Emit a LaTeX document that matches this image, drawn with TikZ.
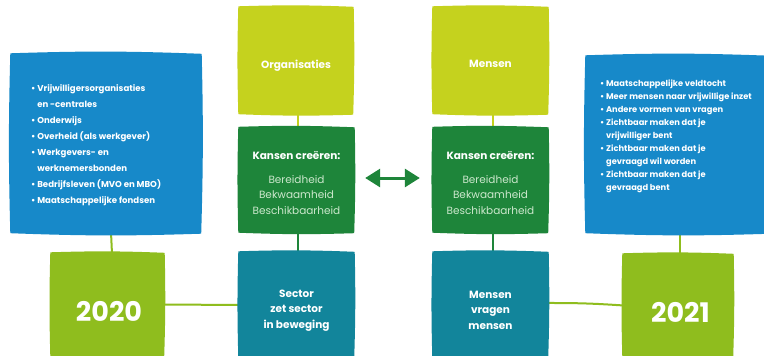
\documentclass[tikz,border=0pt]{standalone}
\usepackage{fontspec}
\setmainfont{Poppins}
\usetikzlibrary{arrows.meta,calc}
\definecolor{cblue}{RGB}{23,137,201}
\definecolor{clime}{RGB}{197,210,30}
\definecolor{cdgreen}{RGB}{30,133,58}
\definecolor{cteal}{RGB}{18,133,155}
\definecolor{cgreen}{RGB}{143,189,30}
\definecolor{clight}{RGB}{205,232,205}
\pgfdeclarelayer{canvas}\pgfdeclarelayer{lines}\pgfdeclarelayer{fills}
\pgfsetlayers{canvas,lines,fills,main}
\newcommand\pillow[2]{%
  \fill[#2] ($(#1.north west)+(-1.5,-1.5)$) to[bend left=2] ($(#1.north east)+(1.5,-1)$)
    to[bend left=1.5] ($(#1.south east)+(1,1.5)$) to[bend left=2] ($(#1.south west)+(-1.5,1)$)
    to[bend left=1.5] cycle;}
\newcommand\lt[1]{\textcolor{clight}{\mdseries\fontsize{10.5}{14}\selectfont #1}}
\newcommand\low[2]{\raisebox{-#1}[0pt][0pt]{#2}}
\begin{document}
\begin{tikzpicture}[x=1pt,y=-1pt,
  box/.style={rectangle, inner sep=0pt, text=white, align=center,
    font=\bfseries\fontsize{10.5}{15.5}\selectfont},
  listtext/.style={inner sep=0pt, text=white, align=left, anchor=west},
  conn/.style={line width=2pt},
  dgarrow/.style={line width=3pt, cdgreen,
    {Triangle[length=15pt,width=18pt]}-{Triangle[length=15pt,width=18pt]}}]
\begin{pgfonlayer}{canvas}
\fill[white] (0,0) rectangle (764,356);
\end{pgfonlayer}
\useasboundingbox (0,0) rectangle (764,356);

% boxes
\node[box, minimum width=188pt, minimum height=177pt] (blueL) at (106,143.5) {};
\node[box, minimum width=183pt, minimum height=175pt] (blueR) at (678.5,144.5) {};
\node[box, minimum width=112pt, minimum height=105pt] (org) at (296,60.5) {\low{8pt}{Organisaties}};
\node[box, minimum width=113pt, minimum height=103pt] (kans1) at (296.5,180) {%
  \rule{0pt}{14pt}Kansen creëren:\\[8pt]\lt{Bereidheid}\\\lt{Bekwaamheid}\\\lt{Beschikbaarheid}};
\node[box, minimum width=113pt, minimum height=104pt] (sect) at (296.5,305) {\rule{0pt}{18pt}Sector\\zet sector\\in beweging};
\node[box, minimum width=113pt, minimum height=105pt] (mens) at (490.5,60.5) {\low{7pt}{Mensen}};
\node[box, minimum width=113pt, minimum height=103pt] (kans2) at (490.5,180) {%
  \rule{0pt}{14pt}Kansen creëren:\\[8pt]\lt{Bereidheid}\\\lt{Bekwaamheid}\\\lt{Beschikbaarheid}};
\node[box, minimum width=113pt, minimum height=104pt] (mvm) at (490.5,305) {\rule{0pt}{18pt}Mensen\\vragen\\mensen};
\node[box, minimum width=111pt, minimum height=101pt, font=\bfseries\fontsize{27}{30}\selectfont] (y2020) at (107.5,304.5) {\low{16.5pt}{\hspace{3pt}2020}};
\node[box, minimum width=108pt, minimum height=101pt, font=\bfseries\fontsize{27}{30}\selectfont] (y2021) at (678,305.5) {\low{16.5pt}{\hspace{5pt}2021}};

% list texts
\node[listtext, font=\bfseries\fontsize{8.6}{16}\selectfont] (listL) at (31,145) {%
  • Vrijwilligersorganisaties\\\phantom{• }en -centrales\\• Onderwijs\\• Overheid (als werkgever)\\
  • Werkgevers- en\\\phantom{• }werknemersbonden\\• Bedrijfsleven (MVO en MBO)\\• Maatschappelijke fondsen};
\node[listtext, font=\bfseries\fontsize{8.3}{13}\selectfont] (listR) at (600,136) {%
  • Maatschappelijke veldtocht\\• Meer mensen naar vrijwillige inzet\\• Andere vormen van vragen\\
  • Zichtbaar maken dat je\\\phantom{• }vrijwilliger bent\\• Zichtbaar maken dat je\\
  \phantom{• }gevraagd wil worden\\• Zichtbaar maken dat je\\\phantom{• }gevraagd bent};

% fills
\begin{pgfonlayer}{fills}
\pillow{blueL}{cblue}
\pillow{blueR}{cblue}
\pillow{org}{clime}
\pillow{mens}{clime}
\pillow{kans1}{cdgreen}
\pillow{kans2}{cdgreen}
\pillow{sect}{cteal}
\pillow{mvm}{cteal}
\pillow{y2020}{cgreen}
\pillow{y2021}{cgreen}
\end{pgfonlayer}

% connectors
\begin{pgfonlayer}{lines}
\draw[conn, cgreen] ([xshift=5pt]blueL.south) -- ([xshift=4.5pt]y2020.north);
\draw[conn, cgreen] (y2020.east) -- (sect.west);
\draw[conn, clime] ([xshift=2pt]org.south) -- ([xshift=1.5pt]kans1.north);
\draw[conn, cdgreen] ([xshift=1.5pt]kans1.south) -- ([xshift=1.5pt]sect.north);
\draw[conn, clime] ([xshift=2pt]mens.south) -- ([xshift=2pt]kans2.north);
\draw[conn, cdgreen] ([xshift=2pt]kans2.south) -- ([xshift=2pt]mvm.north);
\draw[conn, cgreen] ([yshift=2pt]mvm.east) to[bend left=2] (y2021.west);
\draw[conn, cgreen] ([xshift=1.5pt]blueR.south) -- ([xshift=2pt]y2021.north);
\end{pgfonlayer}

\draw[dgarrow, shorten <=12pt, shorten >=14pt] ([yshift=2pt]kans1.east) -- ([yshift=2pt]kans2.west);
\end{tikzpicture}
\end{document}
